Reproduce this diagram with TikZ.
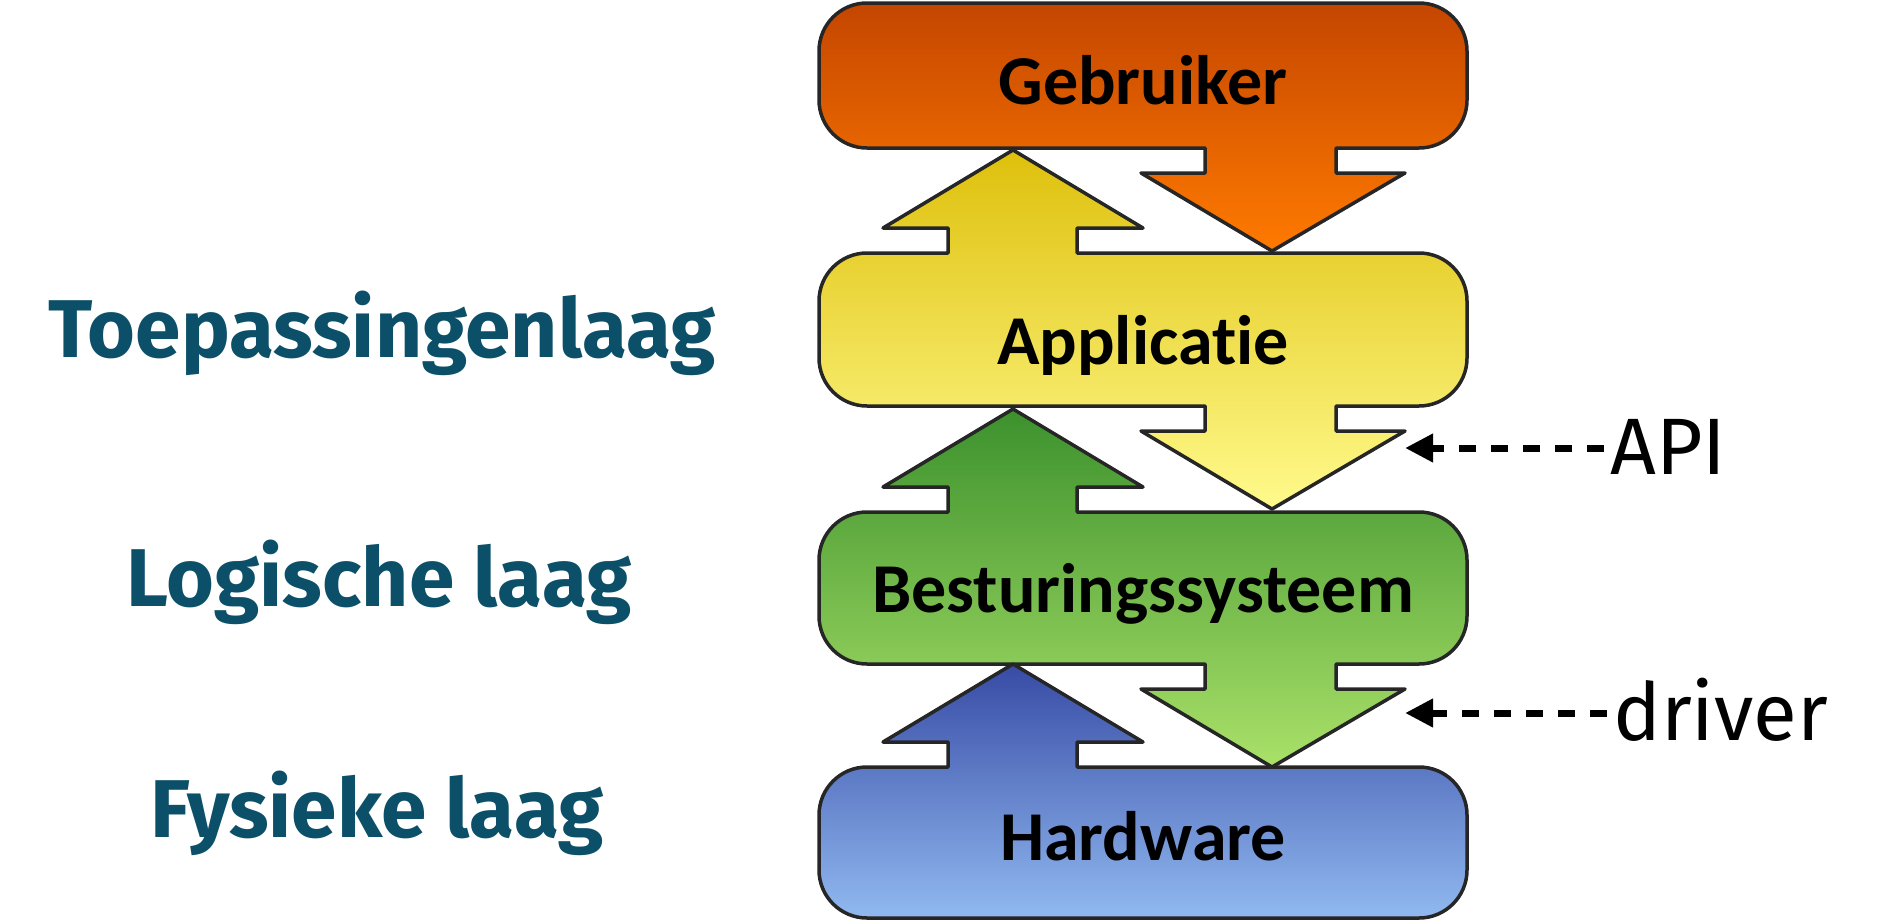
\documentclass[tikz,border=0pt]{standalone}
\usepackage{fontspec}
\setmainfont{Fira Sans}
\newfontfamily\boxfont{Carlito}[Ligatures={NoCommon}]
\usetikzlibrary{arrows.meta}

\definecolor{laagblauw}{RGB}{11,80,104}
\definecolor{oranjeboven}{RGB}{196,70,0}
\definecolor{oranjemidden}{RGB}{232,100,0}
\definecolor{oranjeonder}{RGB}{255,122,0}
\definecolor{geelboven}{RGB}{222,192,12}
\definecolor{geelmidden}{RGB}{242,222,60}
\definecolor{geelonder}{RGB}{255,250,140}
\definecolor{groenboven}{RGB}{60,145,45}
\definecolor{groenmidden}{RGB}{100,178,65}
\definecolor{groenonder}{RGB}{170,225,105}
\definecolor{blauwboven}{RGB}{55,75,165}
\definecolor{blauwmidden}{RGB}{95,128,200}
\definecolor{blauwonder}{RGB}{145,185,240}

\tikzset{
  layer/.style={draw=black!85,line width=3.5pt,line join=round},
  uparrow/.style={insert path={-- (948,#1) -- (948,#1-25) -- (883,#1-25)
    -- (1013,#1-103) -- (1143,#1-25) -- (1077,#1-25) -- (1077,#1)}},
  downarrow/.style={insert path={-- (1336,#1) -- (1336,#1+25) -- (1405,#1+25)
    -- (1272,#1+103) -- (1141,#1+25) -- (1205,#1+25) -- (1205,#1)}},
  boxlabel/.style={font=\boxfont\bfseries\fontsize{70}{84}\selectfont,anchor=base},
  laaglabel/.style={font=\bfseries\fontsize{82}{98}\selectfont,text=laagblauw,anchor=base},
  note/.style={font=\fontsize{80}{96}\selectfont,anchor=base west,inner xsep=6pt},
  pointer/.style={-{Triangle[length=28pt,width=27pt]},line width=7pt,
    dash pattern=on 17pt off 15pt}
}

\begin{document}
\begin{tikzpicture}[x=1pt,y=-1pt]
  \useasboundingbox (0,0) rectangle (1889,921);

  % lagen, elk een doos met pijlen
  \shade[layer,top color=oranjeboven,middle color=oranjemidden,bottom color=oranjeonder]
    (867,3) -- (1419,3) arc[start angle=-90,end angle=0,radius=48]
    -- (1467,100) arc[start angle=0,end angle=90,radius=48] [downarrow=148]
    -- (867,148) arc[start angle=90,end angle=180,radius=48]
    -- (819,51) arc[start angle=180,end angle=270,radius=48] -- cycle;
  \shade[layer,top color=geelboven,middle color=geelmidden,bottom color=geelonder]
    (867,253) [uparrow=253] -- (1419,253) arc[start angle=-90,end angle=0,radius=48]
    -- (1467,358) arc[start angle=0,end angle=90,radius=48] [downarrow=406]
    -- (867,406) arc[start angle=90,end angle=180,radius=48]
    -- (819,301) arc[start angle=180,end angle=270,radius=48] -- cycle;
  \shade[layer,top color=groenboven,middle color=groenmidden,bottom color=groenonder]
    (867,512) [uparrow=512] -- (1419,512) arc[start angle=-90,end angle=0,radius=48]
    -- (1467,616) arc[start angle=0,end angle=90,radius=48] [downarrow=664]
    -- (867,664) arc[start angle=90,end angle=180,radius=48]
    -- (819,560) arc[start angle=180,end angle=270,radius=48] -- cycle;
  \shade[layer,top color=blauwboven,middle color=blauwmidden,bottom color=blauwonder]
    (867,767) [uparrow=767] -- (1419,767) arc[start angle=-90,end angle=0,radius=48]
    -- (1467,870) arc[start angle=0,end angle=90,radius=48]
    -- (867,918) arc[start angle=90,end angle=180,radius=48]
    -- (819,815) arc[start angle=180,end angle=270,radius=48] -- cycle;

  \node[boxlabel] (gebruiker) at (1143,104) {Gebruiker};
  \node[boxlabel] (applicatie) at (1143,364) {Applicatie};
  \node[boxlabel] (besturing) at (1143,612) {Besturingssysteem};
  \node[boxlabel] (hardware) at (1143,860) {Hardware};

  \node[laaglabel] (toepassing) at (382,357) {Toepassingenlaag};
  \node[laaglabel] (logisch) at (379,606) {Logische laag};
  \node[laaglabel] (fysiek) at (377,837) {Fysieke laag};

  % interfaces
  \node[note] (api) at (1604,474) {API};
  \node[note] (driver) at (1607,740) {driver};
  \coordinate (apitip) at (1405,448);
  \coordinate (drivertip) at (1405,713);
  \draw[pointer] (api.west |- apitip) -- (apitip);
  \draw[pointer] (driver.west |- drivertip) -- (drivertip);
\end{tikzpicture}
\end{document}
